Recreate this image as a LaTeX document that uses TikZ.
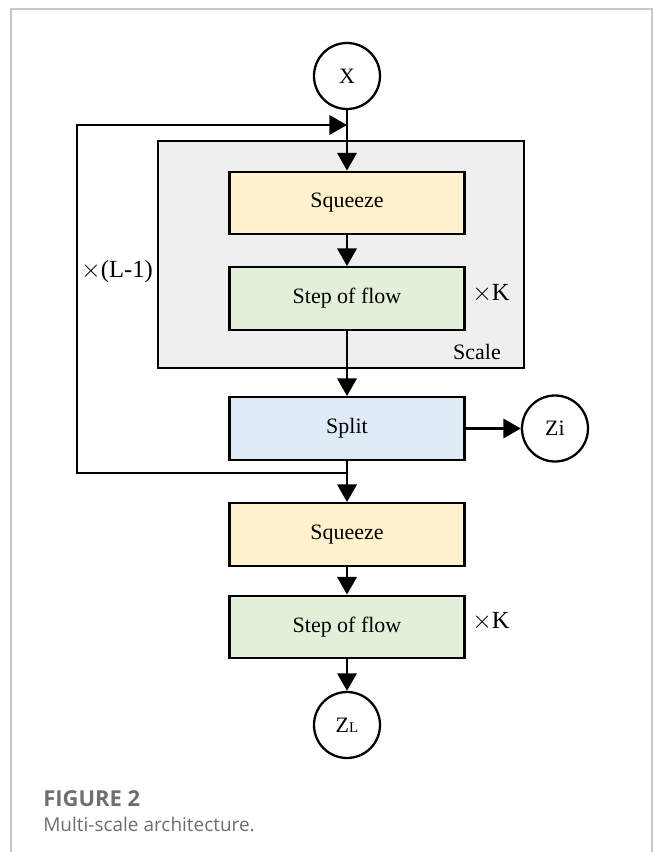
\documentclass[tikz,border=0pt]{standalone}
\usepackage{fontspec}
\setmainfont{Liberation Serif}
\newfontfamily\capfont{Open Sans}
\usepackage{xcolor}
\definecolor{sqzfill}{RGB}{255,242,204}
\definecolor{stepfill}{RGB}{226,239,217}
\definecolor{splitfill}{RGB}{222,235,247}
\definecolor{scalefill}{RGB}{239,239,239}
\definecolor{framegrey}{RGB}{200,200,200}
\definecolor{capgrey}{RGB}{110,110,112}
\usetikzlibrary{arrows.meta,positioning,calc}
\tikzset{
  box/.style={draw=black,line width=1.4pt,align=center,minimum width=4.7cm,minimum height=1.25cm,font=\fontsize{12.5}{14}\selectfont},
  var/.style={draw=black,circle,line width=1.3pt,minimum size=1.32cm,inner sep=0pt,font=\fontsize{12.5}{14}\selectfont},
  lab/.style={align=center,font=\fontsize{14}{16}\selectfont,text=black},
  arr/.style={-{Triangle[length=10pt,width=11pt]},line width=1.4pt,draw=black},
  line/.style={line width=1.4pt,draw=black},
}

\begin{document}
\begin{tikzpicture}
    \useasboundingbox (-6.94,1.52) rectangle (6.14,-15.52);
    \draw[framegrey,line width=0.8pt] (-6.72,-16) |- (6.1,1.34) -- (6.1,-16);
    % one scale of the flow
    \node[draw=black,line width=1.4pt,fill=scalefill,minimum width=7.32cm,minimum height=4.54cm] (scale) at (-0.12,-3.57) {};
    \node[font=\fontsize{12.5}{14}\selectfont] (scalelab) at (2.6,-5.52) {Scale};
    \node[var] (x) at (0,0) {X};
    \node[box,fill=sqzfill] (sq1) at (0,-2.54) {Squeeze};
    \node[box,fill=stepfill] (st1) at (0,-4.45) {Step of flow};
    \node[lab] (k1) at (2.88,-4.36) {$\times$K};
    \node[box,fill=splitfill] (split) at (0,-7.05) {Split};
    \node[var] (zi) at (4.16,-7.05) {Zi};
    % last level
    \node[box,fill=sqzfill] (sq2) at (0,-9.17) {Squeeze};
    \node[box,fill=stepfill] (st2) at (0,-11.02) {Step of flow};
    \node[lab] (k2) at (2.88,-10.9) {$\times$K};
    \node[var] (zl) at (0,-12.98) {Z{\fontsize{8.5}{10}\selectfont L}};
    \node[lab] (loop) at (-4.6,-3.92) {$\times$(L-1)};
    \coordinate (jt) at (0,-0.98);
    \coordinate (jb) at (0,-7.94);
    \draw[arr] (x) -- (sq1);
    \draw[arr] (sq1) -- (st1);
    \draw[arr] (st1) -- (split);
    \draw[arr] (split) -- (zi);
    \draw[arr] (split) -- (sq2);
    \draw[arr] (sq2) -- (st2);
    \draw[arr] (st2) -- (zl);
    \draw[arr] (jb) -- ++(-5.4,0) |- (jt);
    % caption
    \node[anchor=base west,inner sep=0pt,font=\capfont\bfseries\fontsize{12.5}{14}\selectfont,text=capgrey] (fig) at (-6.08,-14.6) {FIGURE 2};
    \node[inner sep=0pt,font=\capfont\fontsize{10.8}{12}\selectfont,text=capgrey,below=0.2cm of fig.south west,anchor=north west] (cap) {Multi-scale architecture.};
\end{tikzpicture}
\end{document}
